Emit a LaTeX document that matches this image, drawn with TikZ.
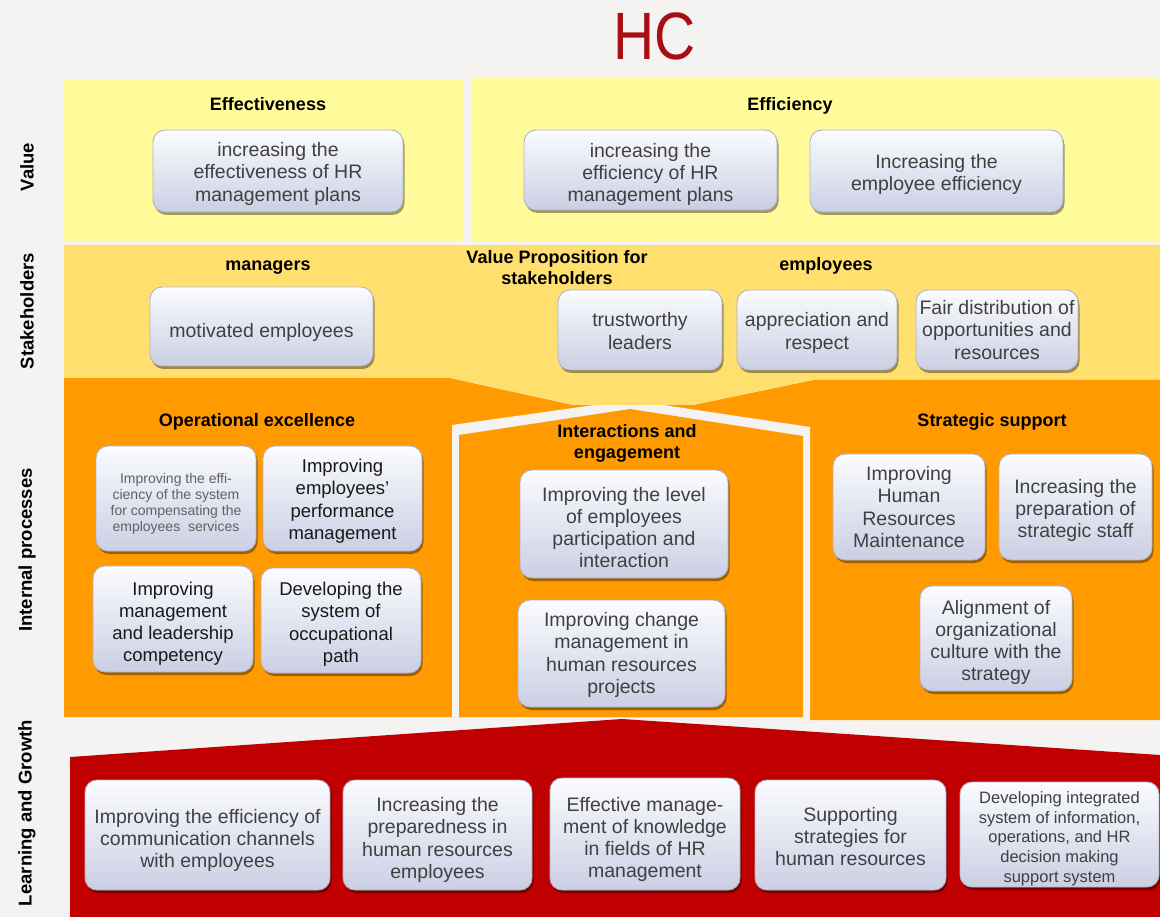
\documentclass[tikz,border=0pt]{standalone}
\usepackage{fontspec}
\usepackage{graphicx}
\setmainfont{Liberation Sans}
\usetikzlibrary{shadows}

\definecolor{bgc}{HTML}{F4F3F2}
\definecolor{valyel}{HTML}{FFFB9A}
\definecolor{stkyel}{HTML}{FFDF6E}
\definecolor{intorg}{HTML}{FF9A00}
\definecolor{lgred}{HTML}{C00000}
\definecolor{hcred}{HTML}{A80F14}
\definecolor{cardedge}{HTML}{B0B3C5}
\definecolor{cardtop}{HTML}{FBFCFF}
\definecolor{cardmid}{HTML}{DCDFEE}
\definecolor{cardbot}{HTML}{CBCFE3}
\definecolor{cardtext}{HTML}{404040}

% centred lines of a card, lowered a little inside the card (box size kept)
\newcommand{\cardlines}[2][4pt]{\raisebox{-#1}[\height][\depth]{\begin{tabular}{@{}c@{}}#2\end{tabular}}}

\tikzset{
  card/.style={rounded corners=12pt, draw=cardedge, line width=0.9pt,
    top color=cardtop, middle color=cardmid, bottom color=cardbot,
    drop shadow={shadow xshift=1.5pt, shadow yshift=-3pt, opacity=0.38, fill=black},
    inner sep=0pt, text=cardtext,
    font=\fontsize{19.5}{22.3}\selectfont},
  opcard/.style={card, text=black!90, font=\fontsize{18.5}{22.3}\selectfont},
  smallcard/.style={card, text=black!62, font=\fontsize{14}{16}\selectfont},
  infocard/.style={card, font=\fontsize{16.5}{19.6}\selectfont},
  sz/.style 2 args={minimum width=#1pt, minimum height=#2pt},
  head/.style={align=center, inner sep=0pt, text=black,
    font=\bfseries\fontsize{18}{21}\selectfont},
  sidelab/.style={rotate=90, inner sep=0pt, text=black,
    font=\bfseries\fontsize{18.5}{20}\selectfont},
}

\begin{document}
\begin{tikzpicture}[x=1pt, y=-1pt]
  % page background
  \fill[bgc] (0,0) rectangle (1160,917);
  \useasboundingbox (0,0) rectangle (1160,917);

  % title
  \node[text=hcred, inner sep=0pt, font=\fontsize{67}{67}\selectfont] (ttl) at (655,36) {\scalebox{0.85}[1]{HC}};

  % perspective bands
  \fill[valyel] (64,80) rectangle (463,241);
  \fill[valyel] (471,77) rectangle (1160,241);
  \fill[stkyel] (64,245) rectangle (1160,380);
  \fill[intorg] (64,378) -- (450,378) -- (573,405) -- (693,405) -- (813,380) -- (1160,380)
    -- (1160,720) -- (810,720) -- (810,717) -- (64,717) -- cycle;
  % house-shaped frame of the middle column
  \fill[bgc] (452,717) -- (452,425) -- (630,400) -- (810,427) -- (810,717) -- cycle;
  \fill[intorg] (459,717) -- (459,435) -- (630,409) -- (803,436) -- (803,717) -- cycle;
  % notch of the stakeholder band
  \fill[stkyel] (450,378) -- (573,405) -- (693,405) -- (813,380) -- cycle;
  % learning and growth base
  \fill[lgred] (70,757) -- (622,719) -- (1160,755) -- (1160,917) -- (70,917) -- cycle;

  % side labels
  \node[sidelab] (lval) at (27,167) {Value};
  \node[sidelab] (lstk) at (27,311) {Stakeholders};
  \node[sidelab] (lint) at (27,550) {Internal processes};
  \node[sidelab] (llg)  at (27,813) {Learning and Growth};

  % value
  \node[head, anchor=base] (hEff) at (268,111) {Effectiveness};
  \node[head, anchor=base] (hEfc) at (790,111) {Efficiency};
  \node[card, sz={250}{82}] (v1) at (278,171) {\cardlines[3.5pt]{increasing the\\effectiveness of HR\\management plans}};
  \node[card, sz={253}{80}] (v2) at (650.5,170) {\cardlines[5pt]{increasing the\\efficiency of HR\\management plans}};
  \node[card, sz={253}{82}] (v3) at (936.5,171) {\cardlines[4pt]{Increasing the\\employee efficiency}};

  % stakeholders
  \node[head, anchor=base] (hMgr) at (268,271) {managers};
  \node[head] (hVP)  at (557,268) {Value Proposition for\\stakeholders};
  \node[head, anchor=base] (hEmp) at (826,271) {employees};
  \node[card, sz={223}{79}] (s1) at (261.5,326.5) {\cardlines[7pt]{motivated employees}};
  \node[card, sz={164}{80}] (s2) at (640,330) {\cardlines[3.5pt]{trustworthy\\leaders}};
  \node[card, sz={160}{80}] (s3) at (817,330) {\cardlines[3.5pt]{appreciation and\\respect}};
  \node[card, sz={162}{80}] (s4) at (997,330) {\cardlines[2.5pt]{Fair distribution of\\opportunities and\\resources}};

  % internal processes: operational excellence
  \node[head, anchor=base] (hOp) at (257,427) {Operational excellence};
  \node[smallcard, sz={160}{105}] (o1) at (176,498.5) {\cardlines[6pt]{Improving the effi-\\ciency of the system\\for compensating the\\employees\ \ services}};
  \node[opcard, sz={159}{105}] (o2) at (342.5,498.5) {\cardlines[3pt]{Improving\\employees’\\performance\\management}};
  \node[opcard, sz={160}{106}] (o3) at (173,619) {\cardlines[5pt]{Improving\\management\\and leadership\\competency}};
  \node[opcard, sz={160}{105}] (o4) at (341,620.5) {\cardlines[4pt]{Developing the\\system of\\occupational\\path}};

  % internal processes: interactions and engagement
  \node[head] (hInt) at (627,443) {Interactions and\\engagement};
  \node[card, sz={208}{108}] (i1) at (624,524) {\cardlines[6pt]{Improving the level\\of employees\\participation and\\interaction}};
  \node[card, sz={207}{107}] (i2) at (621.5,653.5) {\cardlines[2pt]{Improving change\\management in\\human resources\\projects}};

  % internal processes: strategic support
  \node[head, anchor=base] (hStr) at (992,427) {Strategic support};
  \node[card, sz={152}{106}] (t1) at (909,507) {\cardlines[2.5pt]{Improving\\Human\\Resources\\Maintenance}};
  \node[card, sz={153}{106}] (t2) at (1075.5,507) {\cardlines[4pt]{Increasing the\\preparation of\\strategic staff}};
  \node[card, sz={152}{105}] (t3) at (996,638.5) {\cardlines[4.5pt]{Alignment of\\organizational\\culture with the\\strategy}};

  % learning and growth
  \node[card, sz={245}{110}] (g1) at (207.5,835) {\cardlines[6pt]{Improving the efficiency of\\communication channels\\with employees}};
  \node[card, sz={189}{110}] (g2) at (437.5,835) {\cardlines[5.5pt]{Increasing the\\preparedness in\\human resources\\employees}};
  \node[card, sz={190}{112}] (g3) at (645,834) {\cardlines[6pt]{Effective manage-\\ment of knowledge\\in fields of HR\\management}};
  \node[card, sz={191}{110}] (g4) at (850.5,835) {\cardlines[4pt]{Supporting\\strategies for\\human resources}};
  \node[infocard, sz={199}{105}] (g5) at (1059.5,834.5) {\cardlines[4.5pt]{Developing integrated\\system of information,\\operations, and HR\\decision making\\support system}};
\end{tikzpicture}
\end{document}
